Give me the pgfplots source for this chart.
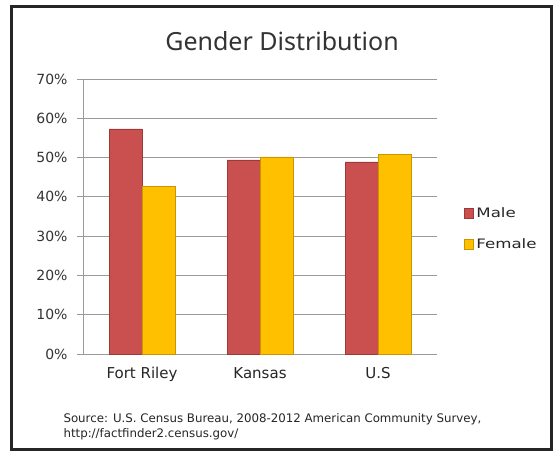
\documentclass[border=0pt]{standalone}
\usepackage{pgfplots}
\pgfplotsset{compat=1.18}
\usepackage{fontspec}
\setmainfont{DejaVu Sans}
\newfontfamily\titlefont{Noto Sans}
\definecolor{malered}{HTML}{C9504F}
\definecolor{maleedge}{HTML}{9B3A38}
\definecolor{femyel}{HTML}{FFC000}
\definecolor{femedge}{HTML}{C99500}
\definecolor{gridgray}{HTML}{9A9A9A}
\begin{document}
\begin{tikzpicture}[x=1pt,y=1pt]
\useasboundingbox (0,0) rectangle (559,455);
\fill[white] (0,0) rectangle (559,455);
\draw[line width=3pt,black!85] (11,6) rectangle (551,448);
\node[font=\titlefont\fontsize{25}{29}\selectfont,text=black!80] at (282,414) {Gender Distribution};
\begin{axis}[
  at={(83pt,101pt)}, anchor=south west,
  scale only axis, width=354pt, height=275pt,
  xmin=-0.5, xmax=2.5, ymin=0, ymax=70,
  ybar, bar width=33pt,
  xtick={0,1,2}, xticklabels={Fort Riley,Kansas,U.S},
  extra x ticks={0.5,1.5}, extra x tick labels={},
  extra x tick style={major tick length=5pt, tick style={gridgray}},
  x tick style={draw=none},
  ytick={0,10,...,70},
  yticklabel={\pgfmathprintnumber{\tick}\%},
  /pgf/number format/assume math mode=true,
  ymajorgrids, grid style={gridgray, line width=0.8pt},
  y tick style={gridgray, line width=0.8pt}, major tick length=6pt,
  tick align=outside,
  axis x line*=bottom, axis y line*=left,
  axis line style={gridgray, line width=0.8pt},
  x axis line style={-}, y axis line style={-},
  yticklabel style={font=\fontsize{14}{16}\selectfont, text=black!80, xshift=-6pt},
  xticklabel style={font=\fontsize{15}{17}\selectfont, text=black!85, yshift=-4pt},
  legend style={at={(1.077,0.455)}, anchor=west, draw=none, fill=none,
    font=\fontsize{13}{15}\selectfont, text=black!85, row sep=16pt,
    nodes={xscale=1.28}, inner sep=0pt},
  legend cell align=left,
  legend image code/.code={\fill[#1] (0pt,-5pt) rectangle (9pt,5pt);},
]
\addplot[fill=malered, draw=maleedge, bar shift=-16.5pt] coordinates {(0,57.3) (1,49.4) (2,48.9)};
\addplot[fill=femyel, draw=femedge, bar shift=16.5pt] coordinates {(0,42.6) (1,50.2) (2,50.9)};
\legend{Male,Female}
\end{axis}
\node[anchor=base west, font=\fontsize{11.8}{13}\selectfont, text=black!85] at (60,33) {Source: U.S. Census Bureau, 2008-2012 American Community Survey,};
\node[anchor=base west, font=\fontsize{11.8}{13}\selectfont, text=black!85] at (60,18) {http://factfinder2.census.gov/};
\end{tikzpicture}
\end{document}
